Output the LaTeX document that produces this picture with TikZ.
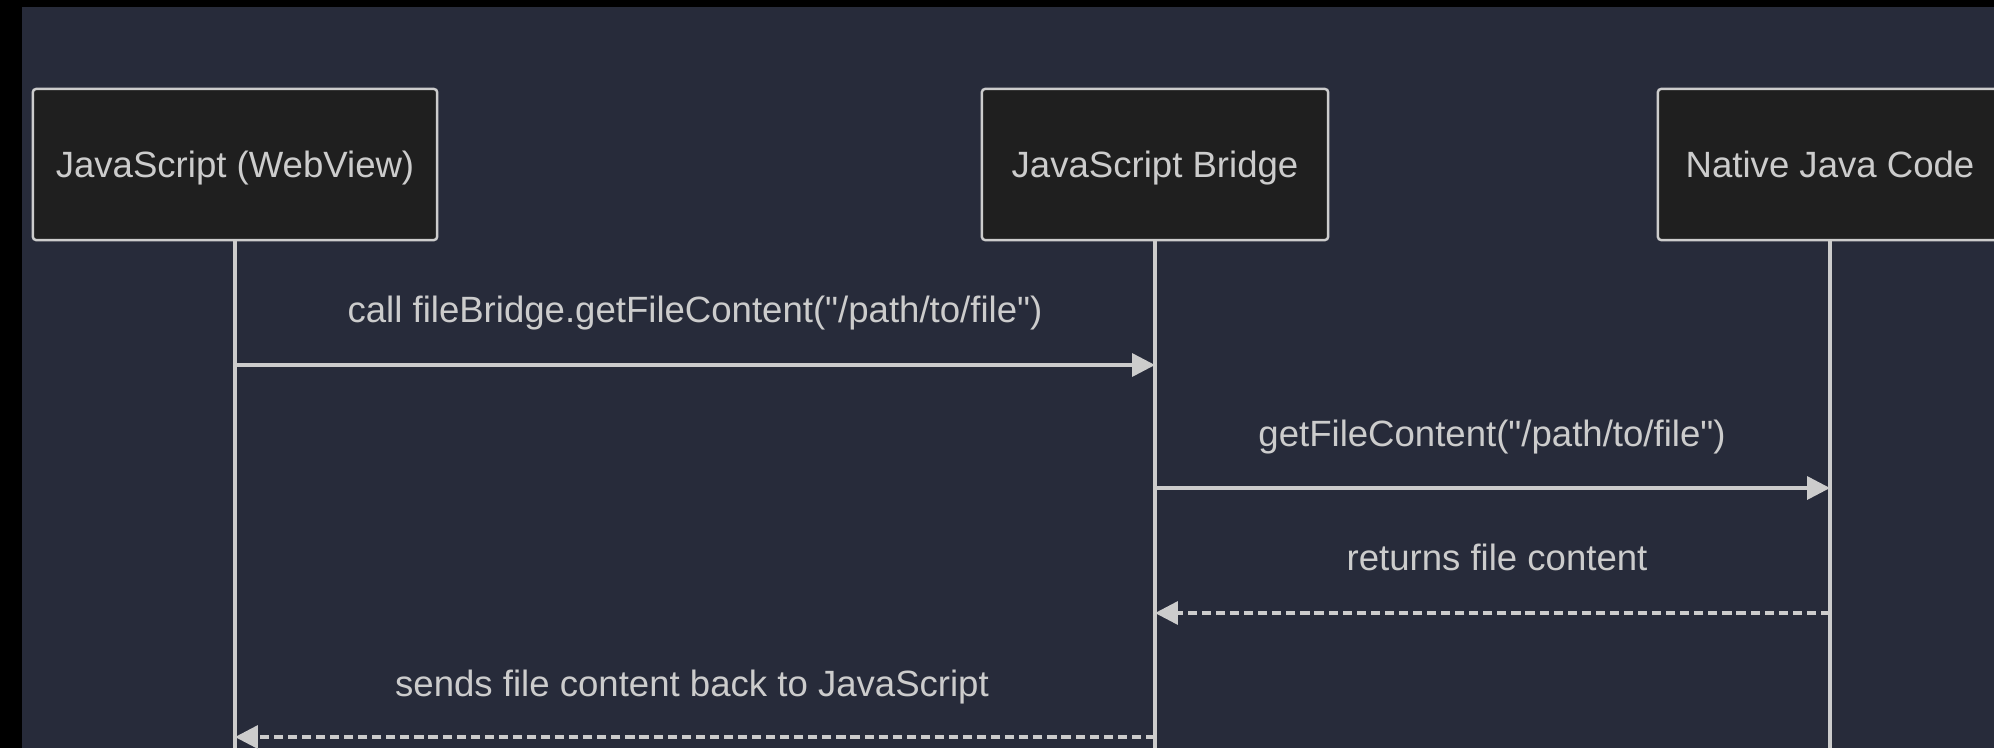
\documentclass[tikz,border=0pt]{standalone}
\usepackage{fontspec}
\setmainfont{Liberation Sans}[Ligatures=TeXOff]
\definecolor{mmbg}{RGB}{39,43,58}
\definecolor{mmbox}{RGB}{31,31,31}
\definecolor{mmline}{RGB}{204,204,204}
\usetikzlibrary{arrows.meta,positioning}

\begin{document}
\begin{tikzpicture}[x=0.01cm, y=-0.01cm,
  every node/.style={font=\fontsize{10.4}{12.5}\selectfont, text=mmline, text height=9.5pt, text depth=2.1pt},
  actor/.style={rounded corners=0.9pt, draw=mmline, fill=mmbox, line width=0.7pt, minimum height=1.51cm, inner sep=0pt},
  life/.style={draw=mmline, line width=1pt},
  call/.style={draw=mmline, line width=1pt, -{Triangle[length=6.5pt,width=6.5pt]}},
  reply/.style={call, dash pattern=on 2.6pt off 1.4pt}]
% Background
\useasboundingbox (0,0) rectangle (1994,748);
\fill[black] (0,0) rectangle (1994,748);
\fill[mmbg] (22,7) rectangle (1994,748);
% Participants
\node[actor, minimum width=4.04cm] (js) at (235,164.5) {JavaScript (WebView)};
\node[actor, minimum width=3.46cm] (br) at (1155,164.5) {JavaScript Bridge};
\node[actor, minimum width=3.44cm] (nat) at (1830,164.5) {Native Java Code};
% Lifelines
\coordinate (bottom) at (0,748);
\draw[life] (js.south) -- (js.south |- bottom);
\draw[life] (br.south) -- (br.south |- bottom);
\draw[life] (nat.south) -- (nat.south |- bottom);
% Messages
\coordinate (m1) at (0,365);
\coordinate (m2) at (0,488);
\coordinate (m3) at (0,613);
\coordinate (m4) at (0,737);
\node (l1) at (695,309) {call fileBridge.getFileContent("/path/to/file")};
\draw[call] (js |- m1) -- (br |- m1);
\node (l2) at (1492,433) {getFileContent("/path/to/file")};
\draw[call] (br |- m2) -- (nat |- m2);
\node (l3) at (1497,557) {returns file content};
\draw[reply] (nat |- m3) -- (br |- m3);
\node (l4) at (692,683) {sends file content back to JavaScript};
\draw[reply] (br |- m4) -- (js |- m4);
\end{tikzpicture}
\end{document}
